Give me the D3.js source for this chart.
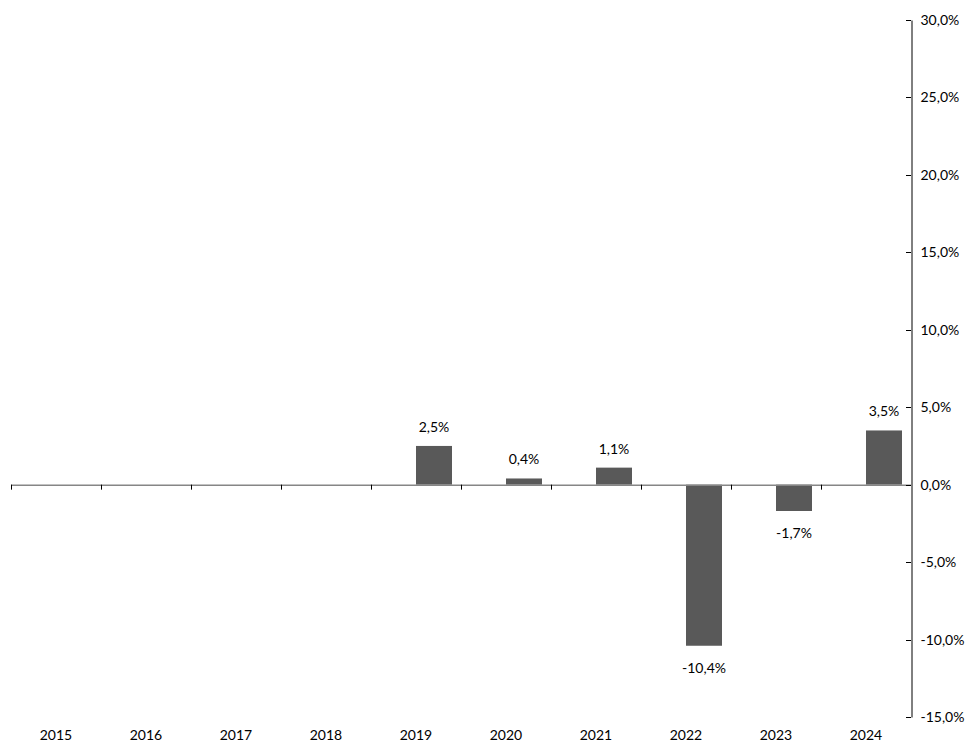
<!DOCTYPE html>
<html><head><meta charset="utf-8">
<script src="https://cdn.jsdelivr.net/npm/d3@7"></script>
<style>body{margin:0;background:#fff}svg{display:block}text{font-family:Lato,"Open Sans",sans-serif;font-size:14px;fill:#000}</style>
</head><body><svg id="c" width="968" height="744"></svg>
<script>
const categories = ["2015","2016","2017","2018","2019","2020","2021","2022","2023","2024"];
const values = [null,null,null,null,2.5,0.4,1.1,-10.4,-1.7,3.5];
const yTicks = [30,25,20,15,10,5,0,-5,-10,-15];

const svg = d3.select("#c");
const x = d3.scaleBand().domain(categories).range([11,911]).padding(0);
const y = d3.scaleLinear().domain([-15,30]).range([717,20]);
const fmt = v => d3.format(".1f")(v).replace(".",",").replace("\u2212","-") + "%";
const bw = x.bandwidth();

// bars
const data = categories.map((c,i)=>({c, v: values[i]})).filter(d=>d.v!==null);
svg.selectAll("rect.bar").data(data).enter().append("rect")
  .attr("x", d => x(d.c) + bw/2)
  .attr("width", bw*0.4)
  .attr("y", d => y(Math.max(0,d.v)))
  .attr("height", d => Math.abs(y(d.v)-y(0)))
  .attr("fill","#595959");

// labels
svg.selectAll("text.lbl").data(data).enter().append("text")
  .attr("text-anchor","middle")
  .attr("x", d => x(d.c) + bw/2 + bw*0.2)
  .attr("y", d => d.v>=0 ? y(d.v)-14 : y(d.v)+27)
  .text(d => fmt(d.v));

// x axis line at zero
const xa = svg.append("g");
xa.append("line").attr("x1",11).attr("x2",911).attr("y1",y(0)+0.5).attr("y2",y(0)+0.5).attr("stroke","#868686").attr("stroke-width",1.5);
const bounds = categories.map(c=>x(c));
xa.selectAll("line.t").data(bounds).enter().append("line")
  .attr("x1",d=>Math.round(d)+0.5).attr("x2",d=>Math.round(d)+0.5)
  .attr("y1",y(0)).attr("y2",y(0)+5).attr("stroke","#000");

// category labels
svg.selectAll("text.cat").data(categories).enter().append("text")
  .attr("text-anchor","middle")
  .attr("x", d => x(d)+bw/2)
  .attr("y", 740)
  .text(d=>d);

// right y axis
const ya = svg.append("g").attr("transform","translate(911.5,0)")
  .call(d3.axisRight(y).tickValues(yTicks).tickSize(0).tickPadding(9).tickFormat(fmt));
ya.select(".domain").attr("stroke","#000");
ya.selectAll("text").style("font-family","Lato, 'Open Sans', sans-serif").style("font-size","14px").attr("fill","#000");
svg.append("g").selectAll("line").data(yTicks).enter().append("line")
  .attr("x1",906).attr("x2",911).attr("y1",d=>Math.round(y(d))+0.5).attr("y2",d=>Math.round(y(d))+0.5).attr("stroke","#000");
</script></body></html>
